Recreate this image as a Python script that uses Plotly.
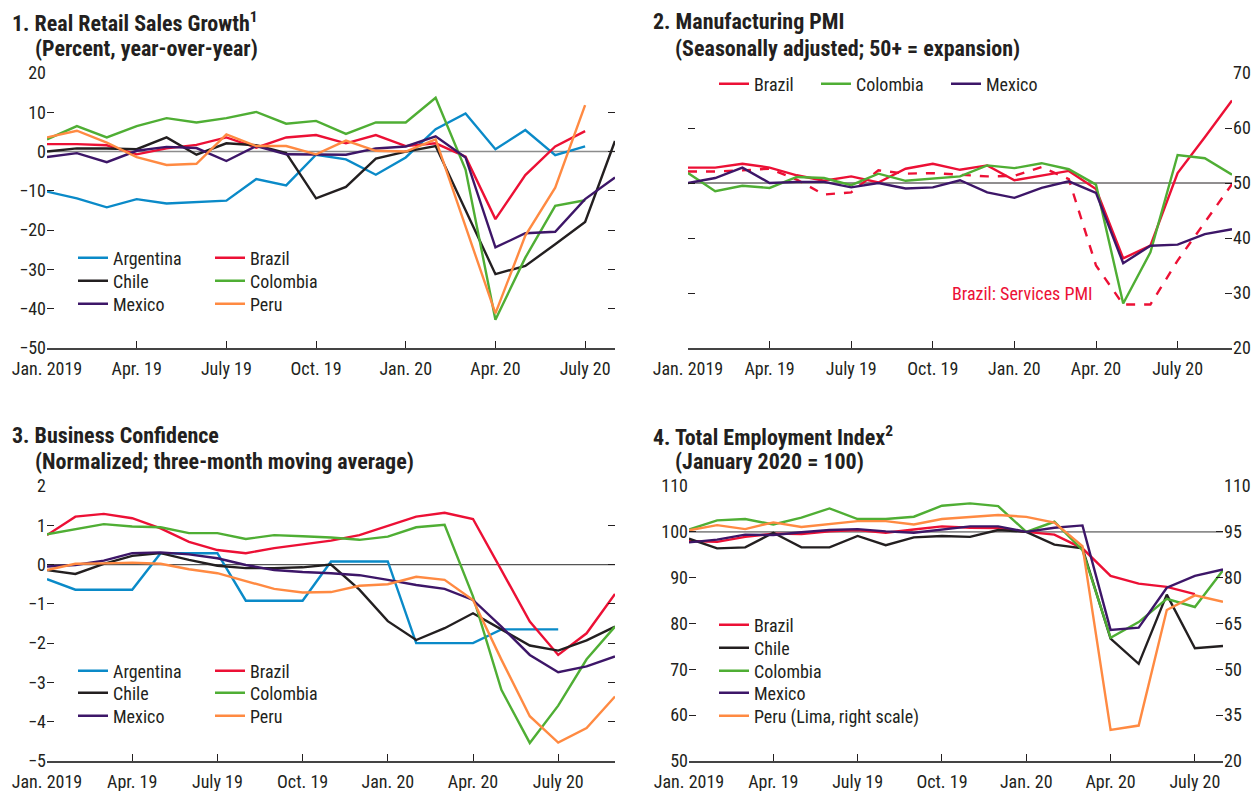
import plotly.graph_objects as go

FONT = "Liberation Sans Narrow, Roboto Condensed, Liberation Sans, Arial"
INK = "#231f20"

MONTHS = ["2019-01", "2019-02", "2019-03", "2019-04", "2019-05", "2019-06",
          "2019-07", "2019-08", "2019-09", "2019-10", "2019-11", "2019-12",
          "2020-01", "2020-02", "2020-03", "2020-04", "2020-05", "2020-06",
          "2020-07", "2020-08", "2020-09"]
TICK_MONTHS = ["2019-01", "2019-04", "2019-07", "2019-10", "2020-01", "2020-04", "2020-07"]
TICK_TEXT = ["Jan. 2019", "Apr. 19", "July 19", "Oct. 19", "Jan. 20", "Apr. 20", "July 20"]

COLORS = {
    "Argentina": "#0a8ac8",
    "Brazil": "#ec1035",
    "Chile": "#231f20",
    "Colombia": "#4fae34",
    "Mexico": "#3d1668",
    "Peru": "#ff8a42",
}

# 1. Real retail sales growth (percent, y/y)
retail_argentina = [-10.2, -11.9, -14.2, -12.1, -13.2, -12.9, -12.5, -7.0, -8.6, -0.8,
                    -2.0, -5.9, -1.5, 5.7, 9.7, 0.6, 5.5, -0.9, 1.3]
retail_brazil = [1.9, 1.9, 1.6, -0.7, 0.8, 1.7, 3.6, 1.0, 3.6, 4.2,
                 2.1, 4.2, 1.4, 2.1, -1.3, -17.2, -6.0, 1.3, 5.2]
retail_chile = [0.0, 0.8, 0.8, 0.6, 3.6, -0.8, 2.1, 1.6, -0.4, -11.9,
                -9.0, -1.8, 0.0, 1.4, None, -31.2, -29.1, -23.6, -17.9, 2.7]
retail_colombia = [3.1, 6.5, 3.6, 6.5, 8.5, 7.4, 8.5, 10.1, 7.1, 7.8,
                   4.5, 7.4, 7.4, 13.7, -4.6, -42.8, -27.0, -13.8, -12.4]
retail_mexico = [-1.4, -0.4, -2.7, 0.2, 1.2, 0.9, -2.4, 1.4, -0.7, -0.8,
                 -0.8, 0.8, 1.3, 3.9, -1.5, -24.4, -20.8, -20.4, -12.1, -6.6]
retail_peru = [3.6, 5.3, 2.3, -1.4, -3.4, -3.1, 4.4, 1.4, 1.4, -0.7,
               2.8, 0.2, 0.0, 3.1, None, -41.2, -21.4, -9.2, 11.8]

# 2. Manufacturing PMI (seasonally adjusted)
pmi_brazil = [52.8, 52.8, 53.5, 52.8, 51.4, 50.4, 51.2, 50.1, 52.6, 53.5, 52.4,
              53.2, 50.5, 51.3, 52.2, 48.9, 36.3, 38.6, 51.8, 58.3, 65.0]
pmi_brazil_services = [52.1, 52.1, 52.3, 52.6, 50.6, 47.9, 48.3, 52.3, 51.7, 51.8, 51.5,
                       51.2, 51.3, 52.9, 50.7, 35.0, 27.9, 27.9, 35.9, 42.8, 49.8]
pmi_colombia = [51.8, 48.5, 49.5, 49.1, 51.1, 50.9, 49.6, 51.7, 50.4, 50.8, 51.2,
                53.2, 52.7, 53.6, 52.5, 49.7, 28.1, 37.4, 55.1, 54.5, 51.5]
pmi_mexico = [50.0, 50.9, 52.8, 50.0, 50.2, 50.2, 49.2, 50.0, 49.0, 49.2, 50.5,
              48.3, 47.3, 49.1, 50.3, 48.2, 35.4, 38.6, 38.8, 40.7, 41.6]

# 3. Business confidence (normalized, 3m moving average)
conf_argentina = [-0.37, -0.64, -0.64, -0.64, 0.29, 0.29, 0.29, -0.92, -0.92, -0.92,
                  0.08, 0.08, 0.08, -2.0, -2.0, -2.0, -1.65, -1.65, -1.65]
conf_brazil = [0.75, 1.22, 1.29, 1.18, 0.92, 0.58, 0.37, 0.29, 0.42, 0.52, 0.61,
               0.75, 0.98, 1.22, 1.32, 1.16, -0.14, -1.45, -2.3, -1.75, -0.75]
conf_chile = [-0.14, -0.24, 0.02, 0.22, 0.29, 0.12, -0.03, -0.09, -0.09, -0.07, 0.0,
              -0.64, -1.44, -1.92, -1.62, -1.24, -1.65, -2.06, -2.19, -1.93, -1.58]
conf_colombia = [0.77, 0.9, 1.03, 0.97, 0.95, 0.8, 0.8, 0.65, 0.75, 0.72, 0.69,
                 0.63, 0.71, 0.95, 1.01, -0.81, -3.19, -4.54, -3.59, -2.41, -1.58]
conf_mexico = [-0.05, -0.01, 0.1, 0.29, 0.31, 0.26, 0.16, -0.01, -0.14, -0.19, -0.22,
               -0.27, -0.39, -0.52, -0.62, -0.9, -1.58, -2.3, -2.74, -2.59, -2.34]
conf_peru = [-0.14, 0.02, 0.03, 0.05, 0.02, -0.12, -0.22, -0.42, -0.62, -0.71, -0.7,
             -0.54, -0.5, -0.31, -0.39, -0.9, -2.42, -3.86, -4.53, -4.16, -3.36]

# 4. Total employment index (Jan 2020 = 100)
emp_brazil = [98.0, 97.8, 98.9, 99.6, 99.5, 100.1, 100.4, 99.8, 100.5, 101.2,
              100.9, 100.8, 100.0, 99.4, 96.4, 90.4, 88.7, 88.0, 86.4]
emp_chile = [98.5, 96.4, 96.6, 99.8, 96.6, 96.6, 99.1, 97.1, 98.8, 99.1,
             98.9, 100.4, 100.0, 97.2, 96.4, 76.7, 71.2, 86.3, 74.6, 75.1]
emp_colombia = [100.5, 102.5, 102.8, 101.6, 103.1, 105.1, 102.8, 102.8, 103.3, 105.7,
                106.2, 105.6, 100.0, 102.2, 96.0, 76.9, 80.3, 85.4, 83.6, 91.6]
emp_mexico = [97.7, 98.3, 99.4, 99.3, 99.9, 100.4, 100.6, 100.1, 99.8, 100.5,
              101.2, 101.2, 100.0, 100.9, 101.4, 78.6, 79.1, 87.8, 90.4, 91.8]
emp_peru_lima = [95.5, 97.2, 95.9, 98.1, 96.6, 97.5, 98.5, 98.5, 97.4, 99.2,
                 99.9, 100.5, 99.9, 98.0, 90.3, 30.2, 31.6, 69.4, 74.2, 72.1]

W, H = 1257, 791


def px_x(x):
    return x / W


def px_y(y):
    return 1 - y / H


fig = go.Figure()

legend_common = dict(
    font=dict(family=FONT, size=18, color=INK), bgcolor="rgba(0,0,0,0)",
    xanchor="left", yanchor="top", itemclick=False,
)
legends = {}


def legend_at(text_x, center_y):
    # one small legend per entry so every entry sits where the reference has it
    key = "legend" if not legends else f"legend{len(legends) + 1}"
    legends[key] = dict(legend_common, x=px_x(text_x - 40), y=px_y(center_y - 18.5))
    return key


def add_line(name, values, color, xa, ya, pos=None, dash="solid"):
    fig.add_trace(go.Scatter(
        x=MONTHS[:len(values)], y=values, name=name, mode="lines",
        line=dict(color=color, width=2.4, dash=dash), connectgaps=True,
        xaxis=xa, yaxis=ya, showlegend=pos is not None,
        legend=legend_at(*pos) if pos else "legend",
    ))


# panel 1
add_line("Argentina", retail_argentina, COLORS["Argentina"], "x", "y", (113, 258))
add_line("Brazil", retail_brazil, COLORS["Brazil"], "x", "y", (250, 258))
add_line("Chile", retail_chile, COLORS["Chile"], "x", "y", (113, 281))
add_line("Colombia", retail_colombia, COLORS["Colombia"], "x", "y", (250, 281))
add_line("Mexico", retail_mexico, COLORS["Mexico"], "x", "y", (113, 304))
add_line("Peru", retail_peru, COLORS["Peru"], "x", "y", (250, 304))

# panel 2
add_line("Brazil: Services PMI", pmi_brazil_services, COLORS["Brazil"], "x2", "y2", dash="dash")
add_line("Brazil", pmi_brazil, COLORS["Brazil"], "x2", "y2", (754, 84))
add_line("Colombia", pmi_colombia, COLORS["Colombia"], "x2", "y2", (856, 84))
add_line("Mexico", pmi_mexico, COLORS["Mexico"], "x2", "y2", (986, 84))

# panel 3
add_line("Argentina", conf_argentina, COLORS["Argentina"], "x3", "y3", (113, 671))
add_line("Brazil", conf_brazil, COLORS["Brazil"], "x3", "y3", (250, 671))
add_line("Chile", conf_chile, COLORS["Chile"], "x3", "y3", (113, 693))
add_line("Colombia", conf_colombia, COLORS["Colombia"], "x3", "y3", (250, 693))
add_line("Mexico", conf_mexico, COLORS["Mexico"], "x3", "y3", (113, 716))
add_line("Peru", conf_peru, COLORS["Peru"], "x3", "y3", (250, 716))

# panel 4
add_line("Brazil", emp_brazil, COLORS["Brazil"], "x4", "y4", (754, 625))
add_line("Chile", emp_chile, COLORS["Chile"], "x4", "y4", (754, 648))
add_line("Colombia", emp_colombia, COLORS["Colombia"], "x4", "y4", (754, 671))
add_line("Mexico", emp_mexico, COLORS["Mexico"], "x4", "y4", (754, 693))
add_line("Peru (Lima, right scale)", emp_peru_lima, COLORS["Peru"], "x4", "y5", (754, 716))

xcommon = dict(
    type="category", categoryorder="array", categoryarray=MONTHS,
    tickmode="array", tickvals=TICK_MONTHS, ticktext=TICK_TEXT,
    ticks="inside", ticklen=7, tickwidth=1.3, tickcolor=INK,
    showline=True, linecolor="#444", linewidth=1.5, automargin=False,
    showgrid=False, zeroline=False, tickfont=dict(size=18, color=INK),
    ticklabelstandoff=4,
)
ycommon = dict(
    showgrid=False, zeroline=False, showline=False, automargin=False,
    ticks="inside", ticklen=7, tickwidth=1.3, tickcolor=INK,
    tickfont=dict(size=18, color=INK),
)

left_dom = [px_x(47), px_x(615)]
top_dom = [px_y(348), px_y(73)]
bot_dom = [px_y(761), px_y(486)]

fig.update_layout(
    xaxis=dict(xcommon, domain=left_dom, range=[0, 19], anchor="y"),
    yaxis=dict(ycommon, domain=top_dom, range=[-50, 20], dtick=10, tick0=0,
               mirror="ticks", anchor="x"),
    xaxis2=dict(xcommon, domain=[px_x(688), px_x(1232)], range=[0, 20], anchor="y2"),
    yaxis2=dict(ycommon, domain=top_dom, range=[20, 70], dtick=10, tick0=20,
                side="right", mirror="ticks", anchor="x2"),
    xaxis3=dict(xcommon, domain=left_dom, range=[0, 20], anchor="y3"),
    yaxis3=dict(ycommon, domain=bot_dom, range=[-5, 2], dtick=1, tick0=0,
                mirror="ticks", anchor="x3"),
    xaxis4=dict(xcommon, domain=[px_x(689), px_x(1223)], range=[0, 19], anchor="y4"),
    yaxis4=dict(ycommon, domain=bot_dom, range=[50, 110], dtick=10, tick0=50, anchor="x4"),
    yaxis5=dict(ycommon, range=[20, 110], dtick=15, tick0=20, side="right",
                overlaying="y4", anchor="x4"),
)
fig.update_layout(**legends)

# reference lines
for xa, ya, yv, col, w in [("x", "y", 0, "#8c8c8c", 1.6), ("x2", "y2", 50, INK, 1.0),
                           ("x3", "y3", 0, "#555555", 1.2), ("x4", "y4", 100, "#8c8c8c", 1.6)]:
    fig.add_shape(type="line", xref=f"{xa} domain", yref=ya, x0=0, x1=1, y0=yv, y1=yv,
                  line=dict(color=col, width=w), layer="below")

titles = [
    (10, 22, "1. Real Retail Sales Growth<sup>1</sup>"),
    (33, 49, "(Percent, year-over-year)"),
    (651, 22, "2. Manufacturing PMI"),
    (673, 49, "(Seasonally adjusted; 50+ = expansion)"),
    (10, 436, "3. Business Confidence"),
    (33, 461, "(Normalized; three-month moving average)"),
    (651, 436, "4. Total Employment Index<sup>2</sup>"),
    (673, 461, "(January 2020 = 100)"),
]
for x, y, text in titles:
    fig.add_annotation(x=px_x(x), y=px_y(y), xref="paper", yref="paper", text=f"<b>{text}</b>",
                       showarrow=False, xanchor="left", yanchor="middle",
                       font=dict(family=FONT, size=22, color=INK))

fig.add_annotation(x=px_x(950), y=px_y(293), xref="paper", yref="paper",
                   text="Brazil: Services PMI", showarrow=False, xanchor="left",
                   yanchor="middle", font=dict(family=FONT, size=18, color=COLORS["Brazil"]))

fig.update_layout(
    width=W, height=H, autosize=False,
    margin=dict(l=0, r=0, t=0, b=0, autoexpand=False),
    paper_bgcolor="white", plot_bgcolor="white",
    font=dict(family=FONT, color=INK),
    hovermode=False,
)

fig.write_html("out.html", config={"displayModeBar": False},
               post_script="document.body.style.margin='0';")
